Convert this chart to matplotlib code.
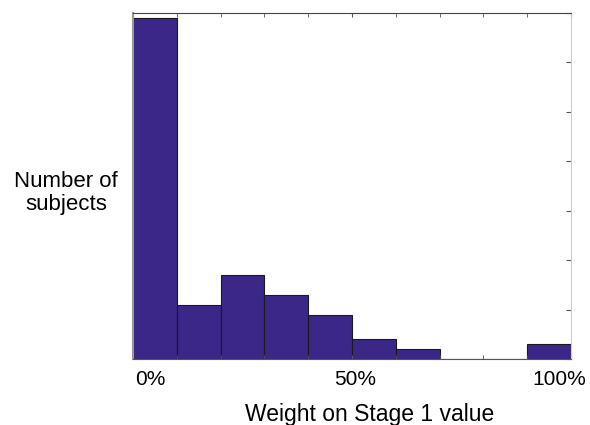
import numpy as np
import matplotlib
matplotlib.use("Agg")
import matplotlib.pyplot as plt
import matplotlib.transforms as mtransforms

# histogram of weights (10 bins from 0 to 1)
bin_edges = [0.0, 0.1, 0.2, 0.3, 0.4, 0.5, 0.6, 0.7, 0.8, 0.9, 1.0]
counts = [69, 11, 17, 13, 9, 4, 2, 0, 0, 3]
tick_vals = [0.0, 0.5, 1.0]
tick_labels = ["0%", "50%", "100%"]

plt.rcParams['font.family'] = ['Liberation Sans', 'DejaVu Sans']

fig = plt.figure(figsize=(5.9, 4.25), dpi=100)
ax = fig.add_axes([0.2254, 0.1546, 0.7424, 0.8155])

ax.hist(bin_edges[:-1], bins=bin_edges, weights=counts,
        color="#3a2788", edgecolor="#1a1a1a", linewidth=0.8)

ax.set_xlim(0, 1)
ax.set_ylim(0, 70)
ax.set_xticks(tick_vals)
ax.set_xticklabels(tick_labels, fontsize=15)
ax.set_xticks(np.arange(0, 1.01, 0.1), minor=True)
ax.set_yticks(np.arange(0, 71, 10))
ax.tick_params(axis="y", left=False, right=True, labelleft=False,
               direction="in", length=3.5, color="#555555")
ax.tick_params(axis="x", which="both", top=True, bottom=True,
               direction="in", length=3, color="#555555", pad=8)

# nudge tick labels like the reference
offsets = [17, 3, -12]
for lab, dx in zip(ax.get_xticklabels(), offsets):
    lab.set_transform(lab.get_transform() +
                      mtransforms.ScaledTranslation(dx / 100, 0, fig.dpi_scale_trans))

ax.spines["top"].set_color("#444444")
ax.spines["bottom"].set_color("#555555")
ax.spines["left"].set_color("#999999")
ax.spines["left"].set_linewidth(1.5)
ax.spines["right"].set_color("#cccccc")

ax.set_xlabel("Weight on Stage 1 value", fontsize=16.5)
ax.xaxis.set_label_coords(0.54, -0.125)
fig.text(0.112, 0.546, "Number of\nsubjects", fontsize=16, ha="center",
         va="center", linespacing=1.12)

fig.savefig("out.png", dpi=100)
